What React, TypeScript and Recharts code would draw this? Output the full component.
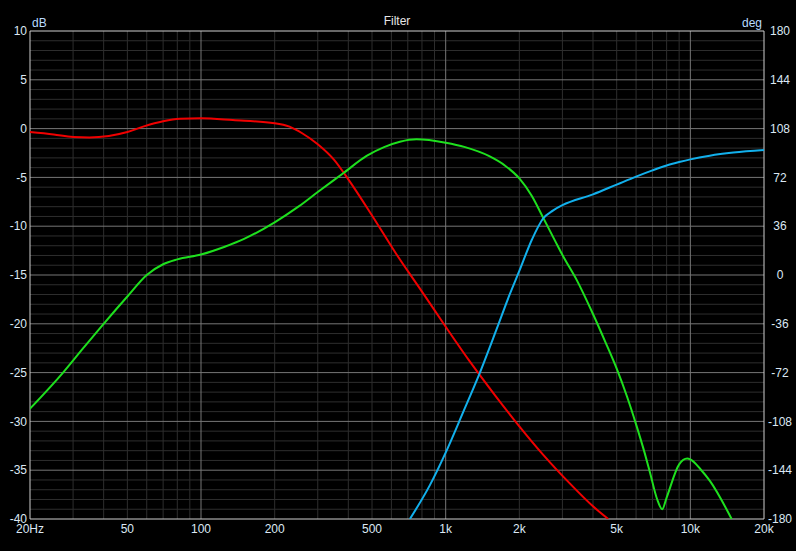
import React from "react";
import { LineChart, Line, XAxis, YAxis, CartesianGrid } from "recharts";

// axis ticks
const freqTicks = [20, 50, 100, 200, 500, 1000, 2000, 5000, 10000, 20000];
const freqLabels = ["20Hz", "50", "100", "200", "500", "1k", "2k", "5k", "10k", "20k"];
const dbTicks = [10, 5, 0, -5, -10, -15, -20, -25, -30, -35, -40];
const degTicks = [180, 144, 108, 72, 36, 0, -36, -72, -108, -144, -180];

// red: low pass magnitude (dB)
const redFreq = [20, 25, 30, 35, 42, 50, 58, 70, 82, 100, 135, 200, 230, 260, 300, 350, 400, 500, 630, 800, 1000, 1250, 1600, 2000, 2500, 3200, 4000, 4617];
const redDb = [-0.35, -0.6, -0.85, -0.9, -0.75, -0.35, 0.2, 0.75, 1.0, 1.05, 0.87, 0.55, 0.2, -0.5, -1.6, -3.2, -5.2, -8.9, -12.9, -16.7, -20.3, -23.8, -27.4, -30.5, -33.4, -36.3, -38.7, -40];

// green: band pass magnitude (dB)
const greenFreq = [20, 27.3, 33, 40, 50, 60, 70, 80, 100, 125, 150, 200, 250, 300, 380, 475, 560, 650, 760, 1000, 1200, 1500, 1750, 2000, 2250, 2500, 2800, 3024, 3430, 4000, 4500, 5000, 5500, 6000, 6500, 6834, 7322, 7674, 8000, 9000, 9708, 10000, 11000, 12020, 14750];
const greenDb = [-28.7, -25, -22.5, -20, -17.2, -15, -13.9, -13.4, -12.9, -12.1, -11.3, -9.6, -8.0, -6.5, -4.6, -2.8, -1.9, -1.35, -1.1, -1.45, -1.9, -2.8, -3.8, -5.1, -6.9, -9.1, -11.5, -13.1, -15.5, -19.0, -21.9, -24.6, -27.4, -30.3, -33.2, -35.2, -38.0, -39.0, -37.8, -34.4, -33.8, -33.9, -34.9, -36.1, -40];

// blue: phase (deg)
const blueFreq = [714, 862, 1000, 1180, 1359, 1615, 1830, 2000, 2250, 2497, 2752, 3000, 4000, 5000, 6000, 7000, 8000, 9000, 10000, 12000, 15000, 20000];
const blueDeg = [-180, -155, -131, -101, -75, -40, -14, 3, 26, 41.5, 47.7, 51.5, 59.5, 66.7, 72.6, 77.2, 80.8, 83.3, 85.3, 88.0, 90.3, 92.2];

// grid values
const minorFreqs = [30, 40, 50, 60, 70, 80, 90, 200, 300, 400, 500, 600, 700, 800, 900, 2000, 3000, 4000, 5000, 6000, 7000, 8000, 9000];
const majorFreqs = [100, 1000, 10000];
const minorDbs = Array.from({ length: 49 }, (_, i) => -39 + i).filter((v) => v % 5 !== 0);
const majorDbs = [5, 0, -5, -10, -15, -20, -25, -30, -35];

const red = redFreq.map((f, i) => ({ f, v: redDb[i] }));
const green = greenFreq.map((f, i) => ({ f, v: greenDb[i] }));
const blue = blueFreq.map((f, i) => ({ f, v: blueDeg[i] }));

const FONT = "'Liberation Sans', Arial, sans-serif";
const TEXT = "#dce8f4";

const toPx = (axis: any) => (v: number) => {
  const s = axis?.scale;
  if (!s) return NaN;
  return typeof s === "function" ? s(v) : s.map(v);
};

const DegTick = (props: any) => {
  const { x, y, payload } = props;
  return (
    <text x={x + 16} y={y} dy="0.355em" textAnchor="middle" fill={TEXT} fontSize={12} fontFamily={FONT}>
      {payload.value}
    </text>
  );
};

export default function App() {
  return (
    <div style={{ position: "absolute", left: 0, top: 0, width: 796, height: 551, background: "#000", fontFamily: FONT }}>
      <LineChart width={796} height={551} margin={{ top: 31, right: 0, bottom: 0, left: 0 }}>
        <CartesianGrid
          stroke="#2e2e2e"
          verticalCoordinatesGenerator={({ xAxis }: any) => minorFreqs.map(toPx(xAxis))}
          horizontalCoordinatesGenerator={({ yAxis }: any) => minorDbs.map(toPx(yAxis))}
        />
        <CartesianGrid
          stroke="#767676"
          verticalCoordinatesGenerator={({ xAxis }: any) => majorFreqs.map(toPx(xAxis))}
          horizontalCoordinatesGenerator={({ yAxis }: any) => majorDbs.map(toPx(yAxis))}
        />
        <CartesianGrid
          stroke="#cfcfcf"
          verticalCoordinatesGenerator={({ xAxis }: any) => [20, 20000].map(toPx(xAxis))}
          horizontalCoordinatesGenerator={({ yAxis }: any) => [10, -40].map(toPx(yAxis))}
        />
        <XAxis
          dataKey="f"
          type="number"
          scale="log"
          domain={[20, 20000]}
          allowDataOverflow
          ticks={freqTicks}
          interval={0}
          tickFormatter={(v: number) => freqLabels[freqTicks.indexOf(v)]}
          height={32}
          axisLine={false}
          tickLine={false}
          tickSize={0}
          tickMargin={5}
          tick={{ fill: TEXT, fontSize: 12, fontFamily: FONT }}
        />
        <YAxis
          yAxisId={0}
          type="number"
          domain={[-40, 10]}
          allowDataOverflow
          ticks={dbTicks}
          interval={0}
          width={30}
          axisLine={false}
          tickLine={false}
          tickSize={0}
          tickMargin={3}
          tick={{ fill: TEXT, fontSize: 12, fontFamily: FONT }}
        />
        <YAxis
          yAxisId="deg"
          orientation="right"
          type="number"
          domain={[-180, 180]}
          allowDataOverflow
          ticks={degTicks}
          interval={0}
          width={32}
          axisLine={false}
          tickLine={false}
          tickSize={0}
          tickMargin={0}
          tick={<DegTick />}
        />
        <Line data={red} dataKey="v" yAxisId={0} type="monotone" stroke="#f00000" strokeWidth={2} dot={false} activeDot={false} isAnimationActive={false} />
        <Line data={green} dataKey="v" yAxisId={0} type="monotone" stroke="#1ee01e" strokeWidth={2} dot={false} activeDot={false} isAnimationActive={false} />
        <Line data={blue} dataKey="v" yAxisId="deg" type="monotone" stroke="#12b0ec" strokeWidth={2} dot={false} activeDot={false} isAnimationActive={false} />
      </LineChart>
      <svg width={796} height={551} style={{ position: "absolute", left: 0, top: 0, pointerEvents: "none" }}>
        <text x={397} y={25} textAnchor="middle" fill="#e6e6e6" fontSize={12} fontFamily={FONT}>Filter</text>
        <text x={32} y={27} fill="#b8dcff" fontSize={12} fontFamily={FONT}>dB</text>
        <text x={762} y={27} textAnchor="end" fill="#b8dcff" fontSize={12} fontFamily={FONT}>deg</text>
      </svg>
    </div>
  );
}
